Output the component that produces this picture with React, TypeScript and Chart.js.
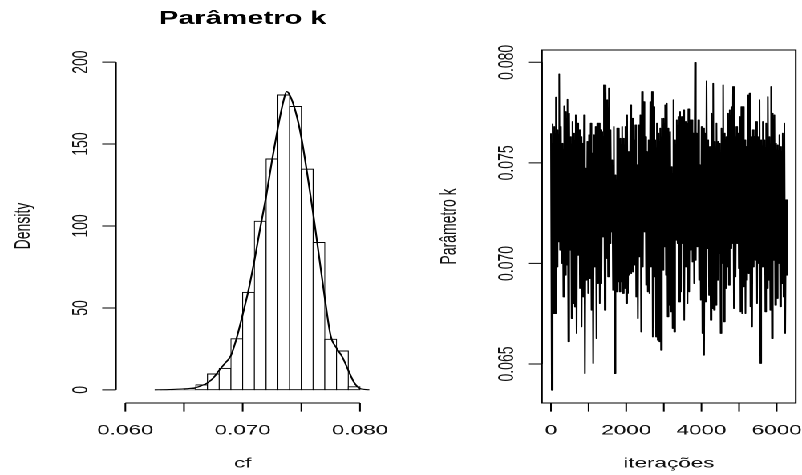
import React, { useEffect, useRef } from "react";
import { Chart, registerables } from "chart.js";

Chart.register(...registerables);

// ---------- Left panel: histogram of k with density curve ----------
const histTitle = "Parâmetro k";
const histXTitle = "cf";
const histYTitle = "Density";
const binEdges = [0.063, 0.064, 0.065, 0.066, 0.067, 0.068, 0.069, 0.07, 0.071, 0.072, 0.073, 0.074, 0.075, 0.076, 0.077, 0.078, 0.079, 0.08];
const binDensity = [0.1, 0.3, 0.7, 3.2, 9.8, 13.2, 31.3, 59.6, 103, 141, 180, 173, 134.8, 90, 31, 23.8, 2];
const densityX = [0.0625, 0.0635, 0.0645, 0.0655, 0.066, 0.0665, 0.067, 0.0675, 0.068, 0.0685, 0.069, 0.0695, 0.07, 0.0705, 0.071, 0.0715, 0.072, 0.0725, 0.073, 0.0735, 0.07375, 0.074, 0.0745, 0.075, 0.0755, 0.076, 0.0765, 0.077, 0.0775, 0.078, 0.0785, 0.079, 0.0795, 0.08, 0.0805, 0.081];
const densityY = [0.05, 0.15, 0.4, 0.9, 1.4, 2.6, 4.3, 7.3, 12, 16.3, 21, 32, 46, 61, 79, 99, 118, 140, 160, 177, 182, 180, 170, 154, 132, 108, 82, 56, 33, 25.5, 20, 12, 4.5, 0.8, 0.2, 0.05];
const histYTicks = [0, 50, 100, 150, 200];
const histYTickLabels = ["0", "50", "100", "150", "200"];
const histXTicks = [0.06, 0.065, 0.07, 0.075, 0.08];
const histXTickLabels = ["0.060", "", "0.070", "", "0.080"];
const histXRange = [0.0592, 0.0808];
const histYRange = [-8, 208];

// ---------- Right panel: trace plot ----------
const traceXTitle = "iterações";
const traceYTitle = "Parâmetro k";
const ITER_PER_SAMPLE = 22;
const traceHigh = [
  0.07647, 0.07693, 0.0768, 0.07826, 0.07664, 0.07942, 0.0768, 0.07597, 0.07783, 0.07755,
  0.07816, 0.07746, 0.0763, 0.07705, 0.07647, 0.07738, 0.07697, 0.07664, 0.0763, 0.07597,
  0.07738, 0.07473, 0.07606, 0.07639, 0.07697, 0.07548, 0.07639, 0.0768, 0.07697, 0.07697,
  0.07664, 0.07655, 0.07887, 0.07887, 0.07813, 0.07871, 0.07664, 0.07514, 0.0768, 0.0744,
  0.07672, 0.07672, 0.07622, 0.0768, 0.07622, 0.0768, 0.07738, 0.07556, 0.07788, 0.07721,
  0.07614, 0.07688, 0.0749, 0.07688, 0.07738, 0.07854, 0.07804, 0.0763, 0.07556, 0.07614,
  0.07804, 0.07854, 0.07779, 0.07614, 0.07697, 0.07647, 0.07672, 0.07721, 0.07721, 0.07788,
  0.07796, 0.07672, 0.07655, 0.07481, 0.07813, 0.07614, 0.07713, 0.0773, 0.07755, 0.0773,
  0.07763, 0.07705, 0.07697, 0.07768, 0.07713, 0.07713, 0.07647, 0.07999, 0.07647, 0.07713,
  0.0749, 0.0768, 0.07672, 0.07647, 0.07907, 0.07614, 0.07581, 0.07746, 0.07895, 0.07606,
  0.07697, 0.07606, 0.07597, 0.07672, 0.07887, 0.07647, 0.0763, 0.07746, 0.07763, 0.07779,
  0.07879, 0.0763, 0.0768, 0.07647, 0.0773, 0.07779, 0.07779, 0.07614, 0.07581, 0.07837,
  0.07846, 0.0763, 0.07664, 0.0763, 0.07705, 0.0763, 0.07813, 0.07614, 0.07705, 0.07614,
  0.07697, 0.07829, 0.0763, 0.07879, 0.07746, 0.07738, 0.07597, 0.07589, 0.07639, 0.07581,
  0.07647, 0.07697, 0.07316,
];
const traceLow = [
  0.0637, 0.06751, 0.06751, 0.06983, 0.07108, 0.07066, 0.07, 0.06834, 0.06942, 0.06992,
  0.06611, 0.07066, 0.06726, 0.06801, 0.06784, 0.06652, 0.07041, 0.06876, 0.06685, 0.06834,
  0.06453, 0.06917, 0.06851, 0.06925, 0.06768, 0.06503, 0.06983, 0.06627, 0.069, 0.06801,
  0.069, 0.07132, 0.06768, 0.07025, 0.06934, 0.07099, 0.07157, 0.06867, 0.06453, 0.06859,
  0.06909, 0.06859, 0.06909, 0.06851, 0.06876, 0.06801, 0.06851, 0.06942, 0.0695, 0.06958,
  0.06992, 0.06834, 0.06726, 0.07033, 0.0666, 0.06983, 0.07157, 0.06892, 0.06859, 0.06851,
  0.06983, 0.06635, 0.06934, 0.06635, 0.06619, 0.06611, 0.06569, 0.06967, 0.07083, 0.06942,
  0.06735, 0.06793, 0.0676, 0.06677, 0.0666, 0.07116, 0.07099, 0.06809, 0.06859, 0.07099,
  0.06718, 0.06983, 0.06801, 0.06859, 0.07066, 0.07008, 0.069, 0.07016, 0.07083, 0.06917,
  0.06818, 0.06652, 0.06544, 0.06809, 0.07074, 0.06842, 0.06718, 0.06776, 0.06768, 0.06793,
  0.06917, 0.0705, 0.06652, 0.07, 0.0671, 0.06876, 0.06983, 0.06892, 0.07074, 0.07099,
  0.06776, 0.06934, 0.07099, 0.06975, 0.0676, 0.06751, 0.06884, 0.06751, 0.06917, 0.0695,
  0.06785, 0.06685, 0.06983, 0.07016, 0.06801, 0.07, 0.06503, 0.06983, 0.07066, 0.0676,
  0.06876, 0.06917, 0.06768, 0.06627, 0.07016, 0.06793, 0.06826, 0.07, 0.06785, 0.069,
  0.06834, 0.06652, 0.06942,
];
const traceYTicks = [0.065, 0.07, 0.075, 0.08];
const traceYTickLabels = ["0.065", "0.070", "0.075", "0.080"];
const traceXTicks = [0, 1000, 2000, 3000, 4000, 5000, 6000];
const traceXTickLabels = ["0", "", "2000", "", "4000", "", "6000"];
const traceXRange = [-239, 6507];
const traceYRange = [0.063061, 0.080612];

// ---------- layout (logical, before horizontal stretch) ----------
const STRETCH = 802 / 500;
const PANEL_W = 250;
const PANEL_H = 475;
const FONT = "'Liberation Sans', Arial, sans-serif";
const TICK_LEN = 8.6;

type AxesCfg = {
  yTicks: number[];
  yLabels: string[];
  xTicks: number[];
  xLabels: string[];
  xTitle: string;
  yTitle: string;
  title?: string;
  box?: boolean;
};

function makeRAxes(cfg: AxesCfg) {
  return {
    id: "rAxes",
    afterDraw(chart: any) {
      const ctx: CanvasRenderingContext2D = chart.ctx;
      const xs = chart.scales.x;
      const ys = chart.scales.y;
      const a = chart.chartArea;
      ctx.save();
      ctx.strokeStyle = "#000";
      ctx.fillStyle = "#111";
      ctx.lineWidth = 1;

      if (cfg.box) {
        ctx.strokeRect(a.left, a.top, a.right - a.left, a.bottom - a.top);
      }

      // y axis
      const yPix = cfg.yTicks.map((v) => ys.getPixelForValue(v));
      ctx.beginPath();
      ctx.moveTo(a.left, yPix[0]);
      ctx.lineTo(a.left, yPix[yPix.length - 1]);
      yPix.forEach((p) => {
        ctx.moveTo(a.left - TICK_LEN, p);
        ctx.lineTo(a.left, p);
      });
      // x axis
      const xPix = cfg.xTicks.map((v) => xs.getPixelForValue(v));
      ctx.moveTo(xPix[0], a.bottom);
      ctx.lineTo(xPix[xPix.length - 1], a.bottom);
      xPix.forEach((p) => {
        ctx.moveTo(p, a.bottom);
        ctx.lineTo(p, a.bottom + TICK_LEN);
      });
      ctx.stroke();

      ctx.font = `14px ${FONT}`;
      ctx.textAlign = "center";
      ctx.textBaseline = "alphabetic";
      // y tick labels (rotated)
      yPix.forEach((p, i) => {
        const lab = cfg.yLabels[i];
        if (!lab) return;
        ctx.save();
        ctx.translate(a.left - 18, p);
        ctx.rotate(-Math.PI / 2);
        ctx.fillText(lab, 0, 0);
        ctx.restore();
      });
      // x tick labels
      xPix.forEach((p, i) => {
        const lab = cfg.xLabels[i];
        if (!lab) return;
        ctx.fillText(lab, p, 434.5);
      });
      // axis titles
      const cx = (a.left + a.right) / 2;
      const cy = (a.top + a.bottom) / 2;
      ctx.fillText(cfg.xTitle, cx, 467.5);
      ctx.save();
      ctx.translate(a.left - 54, cy);
      ctx.rotate(-Math.PI / 2);
      ctx.fillText(cfg.yTitle, 0, 0);
      ctx.restore();

      if (cfg.title) {
        ctx.font = `bold 18px ${FONT}`;
        ctx.fillStyle = "#000";
        ctx.fillText(cfg.title, cx, 24);
      }
      ctx.restore();
    },
  };
}

export default function App() {
  const leftRef = useRef<HTMLCanvasElement>(null);
  const rightRef = useRef<HTMLCanvasElement>(null);

  useEffect(() => {
    const binCenters = binDensity.map((_, i) => (binEdges[i] + binEdges[i + 1]) / 2);

    const left = new Chart(leftRef.current as HTMLCanvasElement, {
      type: "bar",
      data: {
        datasets: [
          {
            type: "line",
            data: densityX.map((x, i) => ({ x, y: densityY[i] })),
            borderColor: "#000",
            borderWidth: 1.1,
            pointRadius: 0,
            fill: false,
            cubicInterpolationMode: "monotone",
            order: 0,
          } as any,
          {
            type: "bar",
            data: binCenters.map((x, i) => ({ x, y: binDensity[i] })),
            backgroundColor: "#fff",
            borderColor: "#000",
            borderSkipped: false,
            borderWidth: { top: 1, left: 0.6, bottom: 1, right: 0.6 },
            barPercentage: 1,
            categoryPercentage: 1,
            order: 1,
          } as any,
        ],
      },
      options: {
        animation: false,
        responsive: false,
        devicePixelRatio: 2,
        events: [],
        layout: { padding: { left: 72.3, top: 49, right: 19.7, bottom: 72 } },
        scales: {
          x: { type: "linear", min: histXRange[0], max: histXRange[1], offset: false, display: false },
          y: { type: "linear", min: histYRange[0], max: histYRange[1], display: false },
        },
        plugins: { legend: { display: false }, tooltip: { enabled: false } },
      } as any,
      plugins: [
        makeRAxes({
          yTicks: histYTicks,
          yLabels: histYTickLabels,
          xTicks: histXTicks,
          xLabels: histXTickLabels,
          xTitle: histXTitle,
          yTitle: histYTitle,
          title: histTitle,
        }),
      ],
    });

    const tracePoints: { x: number; y: number }[] = [];
    traceHigh.forEach((h, k) => {
      tracePoints.push({ x: 2 * k * ITER_PER_SAMPLE, y: h });
      tracePoints.push({ x: (2 * k + 1) * ITER_PER_SAMPLE, y: traceLow[k] });
    });

    const right = new Chart(rightRef.current as HTMLCanvasElement, {
      type: "line",
      data: {
        datasets: [
          {
            data: tracePoints,
            borderColor: "#000",
            borderWidth: 1.0,
            borderJoinStyle: "round",
            pointRadius: 0,
            tension: 0,
            fill: false,
          } as any,
        ],
      },
      options: {
        animation: false,
        responsive: false,
        devicePixelRatio: 2,
        events: [],
        layout: { padding: { left: 87.9, top: 50, right: 3.9, bottom: 72 } },
        scales: {
          x: { type: "linear", min: traceXRange[0], max: traceXRange[1], display: false },
          y: { type: "linear", min: traceYRange[0], max: traceYRange[1], display: false },
        },
        plugins: { legend: { display: false }, tooltip: { enabled: false } },
      } as any,
      plugins: [
        makeRAxes({
          yTicks: traceYTicks,
          yLabels: traceYTickLabels,
          xTicks: traceXTicks,
          xLabels: traceXTickLabels,
          xTitle: traceXTitle,
          yTitle: traceYTitle,
          box: true,
        }),
      ],
    });

    return () => {
      left.destroy();
      right.destroy();
    };
  }, []);

  return (
    <div
      style={{
        position: "fixed",
        left: 0,
        top: 0,
        width: 802,
        height: 475,
        background: "#fff",
        overflow: "hidden",
      }}
    >
      <div
        style={{
          position: "absolute",
          left: 0,
          top: 0,
          width: PANEL_W * 2,
          height: PANEL_H,
          transform: `scaleX(${STRETCH})`,
          transformOrigin: "0 0",
        }}
      >
        <canvas ref={leftRef} width={PANEL_W} height={PANEL_H} style={{ position: "absolute", left: 0, top: 0 }} />
        <canvas ref={rightRef} width={PANEL_W} height={PANEL_H} style={{ position: "absolute", left: PANEL_W, top: 0 }} />
      </div>
    </div>
  );
}
